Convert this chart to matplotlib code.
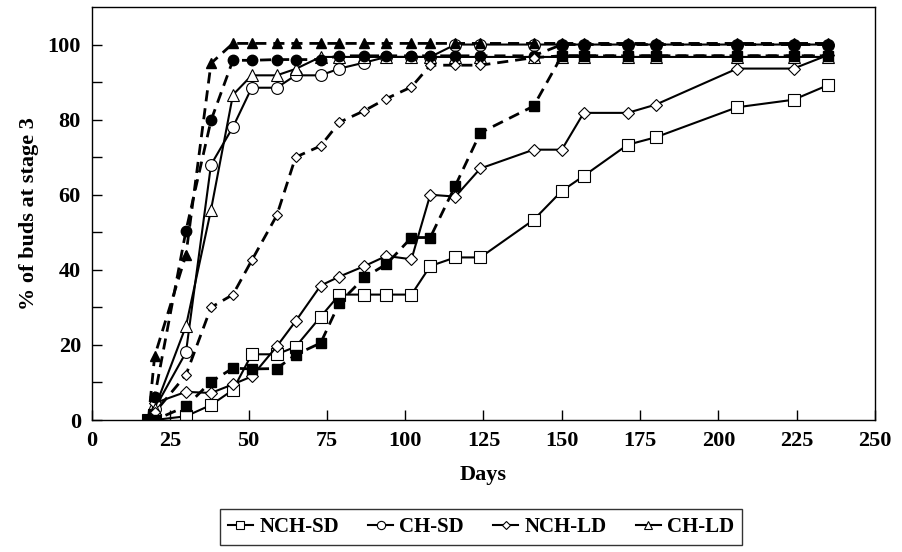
import matplotlib.pyplot as plt

days = [18, 20, 30, 38, 45, 51, 59, 65, 73, 79, 87, 94, 102, 108, 116, 124, 141, 150, 157, 171, 180, 206, 224, 235]

# solid lines, open markers (shown in legend)
nch_sd = [0, 0, 1, 4, 8, 17.5, 17.5, 19.5, 27.5, 33.4, 33.4, 33.4, 33.4, 41, 43.3, 43.3, 53.3, 61, 65, 73.3, 75.3, 83.3, 85.3, 89.2]
ch_sd = [0, 3, 18, 68, 78, 88.5, 88.5, 91.8, 91.8, 93.6, 95.2, 96.7, 96.7, 96.7, 100, 100, 100, 100, 100, 100, 100, 100, 100, 100]
nch_ld = [0, 4.5, 7.5, 7.2, 9.5, 11.6, 19.6, 26.3, 35.8, 38.2, 41, 43.7, 42.8, 60, 59.5, 67, 72, 72, 81.8, 81.8, 84, 93.6, 93.6, 97.2]
ch_ld = [0, 3, 25, 56, 86.6, 91.8, 91.8, 93.5, 96.7, 96.7, 96.7, 96.7, 96.7, 96.7, 96.7, 96.7, 96.7, 96.7, 96.7, 96.7, 96.7, 96.7, 96.7, 96.7]

# dashed lines (no legend entry)
nch_sd_d = [0, 0, 3.6, 10.2, 13.8, 13.6, 13.7, 17.4, 20.5, 31.2, 38, 41.5, 48.6, 48.6, 62.4, 76.5, 83.6, 97, 97, 97, 97, 97, 97, 97]
ch_sd_d = [0, 6.2, 50.4, 79.8, 95.8, 95.8, 96, 96, 96, 97, 97, 97, 97, 97, 97, 97, 97, 100, 100, 100, 100, 100, 100, 100]
nch_ld_d = [0, 2, 12, 30, 33.4, 42.5, 54.5, 70, 73, 79.3, 82.4, 85.6, 88.7, 94.5, 94.5, 94.5, 96.5, 97, 97, 97, 97, 97, 97, 97]
ch_ld_d = [0, 17, 44, 95, 100.3, 100.3, 100.3, 100.3, 100.3, 100.3, 100.3, 100.3, 100.3, 100.3, 100.3, 100.3, 100.3, 100.3, 100.3, 100.3, 100.3, 100.3, 100.3, 100.3]

plt.rcParams['font.family'] = ['Liberation Serif', 'DejaVu Serif']
plt.rcParams['font.weight'] = 'bold'

fig = plt.figure(figsize=(9.02, 5.52), dpi=100)
ax = fig.add_axes([92 / 902, 1 - 420 / 552, (875 - 92) / 902, (420 - 7) / 552])

dash = (0, (4, 2.5))
ax.plot(days, ch_ld_d, color='black', lw=2, linestyle=dash, marker='^', ms=7.5, mfc='black', mec='black', zorder=3)
ax.plot(days, ch_sd_d, color='black', lw=2, linestyle=dash, marker='o', ms=7.5, mfc='black', mec='black', zorder=3)
ax.plot(days, nch_ld_d, color='black', lw=2, linestyle=dash, marker='D', ms=5.5, mfc='white', mec='black', mew=0.8, zorder=3)
ax.plot(days, nch_sd_d, color='black', lw=2, linestyle=dash, marker='s', ms=7.5, mfc='black', mec='black', zorder=3)

ax.plot(days, nch_sd, color='black', lw=1.5, marker='s', ms=8, mfc='white', mec='black', mew=0.8, label='NCH-SD', zorder=2)
ax.plot(days, ch_sd, color='black', lw=1.5, marker='o', ms=8.5, mfc='white', mec='black', mew=0.8, label='CH-SD', zorder=2)
ax.plot(days, nch_ld, color='black', lw=1.5, marker='D', ms=6, mfc='white', mec='black', mew=0.8, label='NCH-LD', zorder=2)
ax.plot(days, ch_ld, color='black', lw=1.5, marker='^', ms=8.5, mfc='white', mec='black', mew=0.8, label='CH-LD', zorder=2)

ax.set_xlim(0, 250)
ax.set_ylim(0, 110)
ax.set_xticks(range(0, 251, 25))
ax.set_yticks(range(0, 101, 10))
ax.set_yticklabels([str(v) if v % 20 == 0 else '' for v in range(0, 101, 10)])
ax.tick_params(direction='in', length=7, width=1, labelsize=16, pad=8)
for lab in ax.get_xticklabels() + ax.get_yticklabels():
    lab.set_fontweight('bold')
for s in ax.spines.values():
    s.set_linewidth(1)

ax.set_xlabel('Days', fontsize=16, fontweight='bold', labelpad=10)
ax.set_ylabel('% of buds at stage 3', fontsize=16, fontweight='bold', labelpad=6)

leg = fig.legend(loc='center', bbox_to_anchor=(481 / 902, 1 - 527 / 552), ncol=4,
                 fontsize=15, frameon=True, fancybox=False, shadow=False,
                 handlelength=1.2, handletextpad=0.3, columnspacing=1.4,
                 markerscale=0.7, borderpad=0.4)
leg.get_frame().set_edgecolor('black')
leg.get_frame().set_linewidth(1)
for t in leg.get_texts():
    t.set_fontweight('bold')

fig.savefig('out.png', dpi=100)
